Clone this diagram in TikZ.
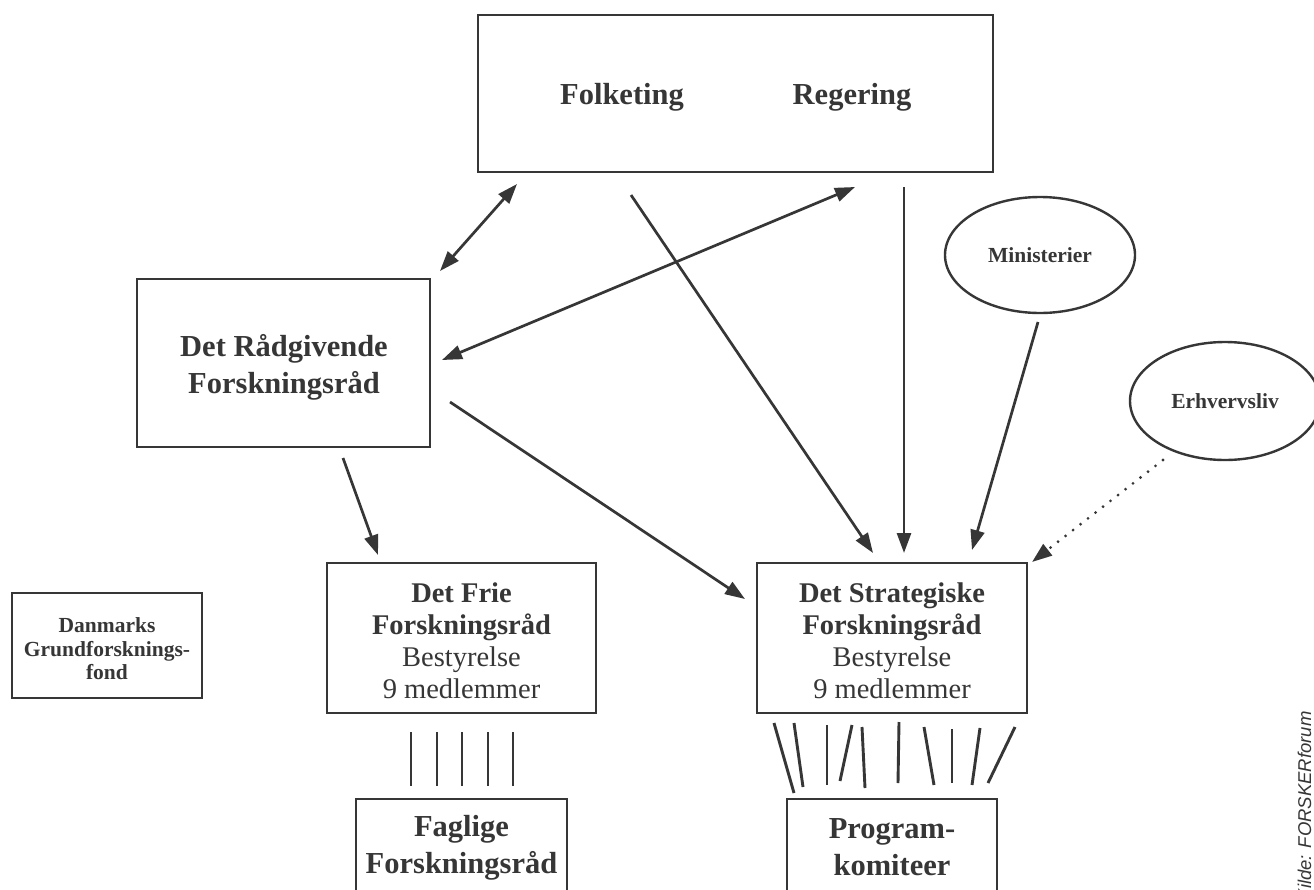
\documentclass[tikz,border=0pt]{standalone}
\usepackage{fontspec}
\setmainfont{Liberation Serif}
\newfontfamily\kildefont{Liberation Sans}
\usetikzlibrary{arrows.meta,shapes.geometric}
\definecolor{ink}{HTML}{363636}
\begin{document}
\begin{tikzpicture}[x=1pt,y=-1pt,
  box/.style={draw=ink, line width=2.9pt, inner sep=0pt, rectangle},
  lbl/.style={text=ink, inner sep=0pt, align=center},
  oval/.style={draw=ink, line width=2.4pt, text=ink, inner sep=0pt, ellipse, align=center},
  bigfont/.style={font=\fontsize{30.5}{37}\selectfont\bfseries},
  midfont/.style={font=\fontsize{28.5}{32}\selectfont},
  smallfont/.style={font=\fontsize{21.5}{23.5}\selectfont\bfseries},
  tipshape/.style={},
  conn/.style={draw=ink, line width=2.7pt, -{Triangle[length=20pt,width=14pt]}},
  biconn/.style={draw=ink, line width=2.7pt, {Triangle[length=20pt,width=14pt]}-{Triangle[length=20pt,width=14pt]}},
  dotconn/.style={draw=ink, line width=3.1pt, line cap=round, dash pattern=on 0pt off 9.5pt, -{Triangle[length=20pt,width=14pt]}},
  fan/.style={draw=ink, line width=2.9pt}
]
\useasboundingbox[fill=white] (0,0) rectangle (1314,889);

% boxes
\node[box, minimum width=515pt, minimum height=157pt] (top) at (735.5,93.5) {};
\node[lbl, bigfont] (folk) at (622,97) {Folketing};
\node[lbl, bigfont] (reg) at (852,97) {Regering};

\node[box, minimum width=293pt, minimum height=168pt] (raad) at (283.5,363) {};
\node[lbl, bigfont] (raadtxt) at (284,367) {Det Rådgivende\\Forskningsråd};

\node[box, minimum width=269pt, minimum height=150pt] (frie) at (461.5,638) {};
\node[lbl, midfont] (frietxt) at (461.5,640.5)
  {\textbf{Det Frie}\\\textbf{Forskningsråd}\\Bestyrelse\\9 medlemmer};

\node[box, minimum width=270pt, minimum height=150pt] (strat) at (892,638) {};
\node[lbl, midfont] (strattxt) at (892,640.5)
  {\textbf{Det Strategiske}\\\textbf{Forskningsråd}\\Bestyrelse\\9 medlemmer};

\node[box, minimum width=190pt, minimum height=105pt] (dgf) at (107,645.5) {};
\node[lbl, smallfont] (dgftxt) at (107,649) {Danmarks\\Grundforsknings-\\fond};

\node[box, minimum width=211pt, minimum height=140pt] (fag) at (461.5,869) {};
\node[lbl, bigfont] (fagtxt) at (461.5,848) {Faglige\\Forskningsråd};
\node[box, minimum width=210pt, minimum height=140pt] (prog) at (892,869) {};
\node[lbl, bigfont] (progtxt) at (892,847) {Program-\\komiteer};

% ellipses
\node[oval, smallfont, minimum width=190pt, minimum height=116pt] (min) at (1040,255) {Ministerier};
\node[oval, smallfont, minimum width=190pt, minimum height=118pt] (erh) at (1225,401) {Erhvervsliv};

% source
\node[rotate=90, anchor=base west, text=ink, inner sep=0pt,
  font=\kildefont\itshape\fontsize{18.5}{18.5}\selectfont] (kilde) at (1311,901.5) {Kilde: FORSKERforum};

% connector end points
\coordinate (a1) at (517,184);  \coordinate (a2) at (440,271);
\coordinate (b1) at (855,187);  \coordinate (b2) at (442,360);
\coordinate (c1) at (631,195);  \coordinate (c2) at (873,553);
\coordinate (d1) at (904,187);  \coordinate (d2) at (904,553);
\coordinate (e1) at (1038,322); \coordinate (e2) at (972,550);
\coordinate (f1) at (1163,460); \coordinate (f2) at (1032,562);
\coordinate (g1) at (450,402);  \coordinate (g2) at (745,599);
\coordinate (h1) at (343,458);  \coordinate (h2) at (378,555);

\draw[biconn] (a2) -- (a1);
\draw[biconn] (b2) -- (b1);
\draw[conn] (c1) -- (c2);
\draw[conn] (d1) -- (d2);
\draw[conn] (e1) -- (e2);
\draw[dotconn] (f1) -- (f2);
\draw[conn] (g1) -- (g2);
\draw[conn] (h1) -- (h2);

% Frie -> Faglige fan
\foreach \x in {411,437,462,488,513} {
  \draw[fan] (\x,732) -- (\x,786);
}
% Strategiske -> Programkomiteer fan
\foreach \xa/\ya/\xb/\yb in {774/723/794/793, 794/723/803/787, 827/725/827/785,
  852/725/840/781, 862/727/865/788, 899/722/898/783, 924/727/934/785,
  952/729/952/783, 980/728/972/785, 1015/727/988/783} {
  \draw[fan] (\xa,\ya) -- (\xb,\yb);
}
\end{tikzpicture}
\end{document}
